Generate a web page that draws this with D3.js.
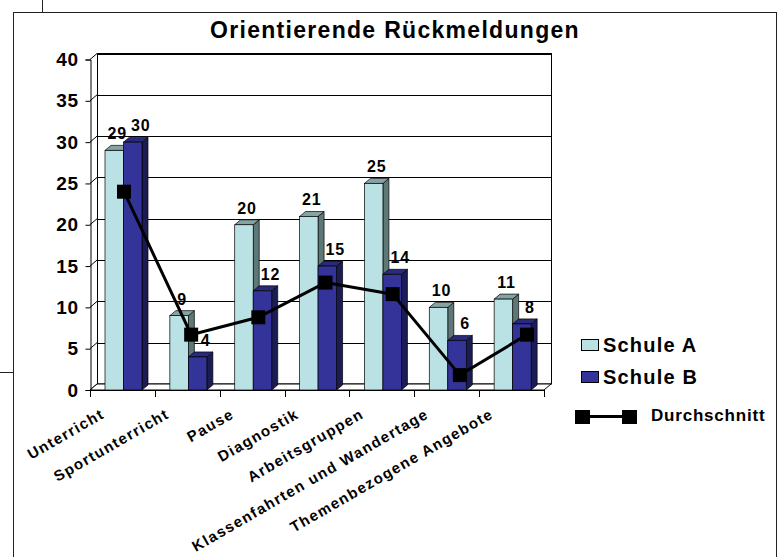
<!doctype html>
<html>
<head>
<meta charset="utf-8">
<style>
  body { margin: 0; background: #fff; }
  svg { font-family: "Liberation Sans", Arial, sans-serif; font-weight: bold; }
</style>
<script src="https://d3js.org/d3.v7.min.js"></script>
</head>
<body>
<svg width="779" height="557"></svg>
<script>

// data
var categories = ["Unterricht", "Sportunterricht", "Pause", "Diagnostik",
                  "Arbeitsgruppen", "Klassenfahrten und Wandertage", "Themenbezogene Angebote"];
var schuleA = [29, 9, 20, 21, 25, 10, 11];
var schuleB = [30, 4, 12, 15, 14, 6, 8];
var durchschnitt = [24, 6.7, 8.8, 13, 11.6, 1.8, 6.7];
var yTicks = [0, 5, 10, 15, 20, 25, 30, 35, 40];
var seriesNames = ["Schule A", "Schule B", "Durchschnitt"];

var svg = d3.select("svg");

// frame + stray cell lines from the sheet
svg.append("rect").attr("x", 13.5).attr("y", 12.5).attr("width", 763).attr("height", 560)
   .attr("fill", "none").attr("stroke", "#222");
svg.append("line").attr("x1", 42.5).attr("x2", 42.5).attr("y1", 0).attr("y2", 12)
   .attr("stroke", "#222");
svg.append("line").attr("x1", 0).attr("x2", 13).attr("y1", 372.5).attr("y2", 372.5)
   .attr("stroke", "#222");

svg.append("text")
   .attr("x", 395).attr("y", 38)
   .attr("text-anchor", "middle")
   .attr("font-size", "23px")
   .attr("letter-spacing", "1.3px")
   .text("Orientierende Rückmeldungen");

var x0 = 90, x1 = 544, y0 = 390, yTop = 59.5;
var dx = 7, dy = -6;      // wall depth
var bdx = 6, bdy = -5;    // bar depth

var x = d3.scaleBand().domain(categories).range([x0, x1]);
var sub = d3.scaleBand().domain(["A", "B"]).range([15, 52]);
var y = d3.scaleLinear().domain([0, 40]).range([y0, yTop]);
var lx = d3.scalePoint().domain(categories).range([124, 527]);

// back wall
svg.append("rect")
   .attr("x", x0 + dx + 0.5).attr("y", y(40) + dy)
   .attr("width", x1 - x0).attr("height", y(0) - y(40))
   .attr("fill", "#fff").attr("stroke", "#000");

// gridlines on back wall + side wall
var grid = svg.append("g").attr("stroke", "#000").attr("stroke-width", 1);
grid.selectAll(".gb").data(yTicks.slice(1)).enter().append("line")
    .attr("x1", x0 + dx).attr("x2", x1 + dx)
    .attr("y1", function(d) { return Math.round(y(d) + dy) + 0.5; })
    .attr("y2", function(d) { return Math.round(y(d) + dy) + 0.5; });
grid.selectAll(".gs").data(yTicks).enter().append("line")
    .attr("x1", x0).attr("x2", x0 + dx)
    .attr("y1", function(d) { return y(d); })
    .attr("y2", function(d) { return y(d) + dy; });

// floor
svg.append("path")
   .attr("d", "M" + x0 + "," + y0 + "L" + (x0 + dx) + "," + (y0 + dy) +
              "L" + (x1 + dx) + "," + (y0 + dy) + "L" + x1 + "," + y0 + "Z")
   .attr("fill", "#fff").attr("stroke", "#000");

// y axis
var yAxis = svg.append("g")
   .attr("transform", "translate(" + (x0 + 0.5) + ",0)")
   .call(d3.axisLeft(y).tickValues(yTicks).tickSize(5).tickPadding(7));
yAxis.select(".domain").attr("stroke", "#000");
yAxis.selectAll("line").attr("stroke", "#000");
yAxis.selectAll("text")
   .attr("font-size", "19px").attr("font-weight", "bold")
   .attr("font-family", "Liberation Sans, Arial, sans-serif")
   .attr("letter-spacing", "0.5px").attr("fill", "#000");

// x axis line and ticks at band edges
var bounds = categories.map(function(c) { return x(c); }).concat([x1]);
svg.append("line").attr("x1", x0).attr("x2", x1).attr("y1", y0 + 0.5).attr("y2", y0 + 0.5)
   .attr("stroke", "#000");
svg.selectAll(".xt").data(bounds).enter().append("line")
   .attr("x1", function(d) { return Math.round(d) + 0.5; })
   .attr("x2", function(d) { return Math.round(d) + 0.5; })
   .attr("y1", y0).attr("y2", y0 + 7)
   .attr("stroke", "#000");

svg.selectAll(".xl").data(categories).enter().append("text")
   .attr("transform", function(d) {
       return "translate(" + (x(d) + x.bandwidth() / 2 - 17) + ",417) rotate(-30)";
   })
   .attr("text-anchor", "end")
   .attr("font-size", "15px")
   .attr("letter-spacing", "1.4px")
   .text(function(d) { return d; });

// 3D bars
var colA = { front: "#bae1e4", side: "#5e7878", top: "#86a3a3" };
var colB = { front: "#333399", side: "#1c1c55", top: "#2a2a7a" };

function bar(g, bx, v, w, col) {
    var ty = y(v);
    g.append("path")
     .attr("d", "M" + (bx + w) + "," + ty + "L" + (bx + w + bdx) + "," + (ty + bdy) +
                "L" + (bx + w + bdx) + "," + (y0 + bdy) + "L" + (bx + w) + "," + y0 + "Z")
     .attr("fill", col.side).attr("stroke", "#000").attr("stroke-width", 0.7);
    g.append("path")
     .attr("d", "M" + bx + "," + ty + "L" + (bx + bdx) + "," + (ty + bdy) +
                "L" + (bx + w + bdx) + "," + (ty + bdy) + "L" + (bx + w) + "," + ty + "Z")
     .attr("fill", col.top).attr("stroke", "#000").attr("stroke-width", 0.7);
    g.append("rect")
     .attr("x", bx).attr("y", ty).attr("width", w).attr("height", y0 - ty)
     .attr("fill", col.front).attr("stroke", "#000").attr("stroke-width", 0.7);
}

var bars = svg.append("g");
categories.forEach(function(c, i) {
    bar(bars, x(c) + sub("A"), schuleA[i], sub.bandwidth(), colA);
    bar(bars, x(c) + sub("B"), schuleB[i], sub.bandwidth(), colB);
});

// value labels
var lab = svg.append("g").attr("font-size", "16px").attr("letter-spacing", "0.8px")
             .attr("text-anchor", "middle");
categories.forEach(function(c, i) {
    lab.append("text")
       .attr("x", x(c) + sub("A") + sub.bandwidth() / 2 + 3)
       .attr("y", y(schuleA[i]) - 11)
       .text(schuleA[i]);
    lab.append("text")
       .attr("x", x(c) + sub("B") + sub.bandwidth() / 2 + 8)
       .attr("y", y(schuleB[i]) - 11)
       .text(schuleB[i]);
});

// Durchschnitt line
var line = d3.line()
    .x(function(d, i) { return lx(categories[i]); })
    .y(function(d) { return y(d); });
svg.append("path").datum(durchschnitt)
   .attr("d", line).attr("fill", "none").attr("stroke", "#000").attr("stroke-width", 3);
svg.selectAll(".mk").data(durchschnitt).enter().append("rect")
   .attr("x", function(d, i) { return lx(categories[i]) - 7; })
   .attr("y", function(d) { return y(d) - 7; })
   .attr("width", 14).attr("height", 14)
   .attr("fill", "#000");

// legend
var leg = svg.append("g");
leg.append("rect").attr("x", 581.5).attr("y", 339.5).attr("width", 17).attr("height", 11)
   .attr("fill", colA.front).attr("stroke", "#000");
leg.append("rect").attr("x", 581.5).attr("y", 371.5).attr("width", 17).attr("height", 11)
   .attr("fill", colB.front).attr("stroke", "#000");
leg.append("text").attr("x", 603).attr("y", 352).attr("font-size", "20px")
   .attr("letter-spacing", "1.2px").text(seriesNames[0]);
leg.append("text").attr("x", 603).attr("y", 383.5).attr("font-size", "20px")
   .attr("letter-spacing", "1.2px").text(seriesNames[1]);
leg.append("line").attr("x1", 575).attr("x2", 636).attr("y1", 416.5).attr("y2", 416.5)
   .attr("stroke", "#000").attr("stroke-width", 3);
leg.append("rect").attr("x", 575).attr("y", 410).attr("width", 15).attr("height", 14).attr("fill", "#000");
leg.append("rect").attr("x", 622).attr("y", 410).attr("width", 15).attr("height", 14).attr("fill", "#000");
leg.append("text").attr("x", 651).attr("y", 421).attr("font-size", "17px")
   .attr("letter-spacing", "0.8px").text(seriesNames[2]);

</script>
</body>
</html>
